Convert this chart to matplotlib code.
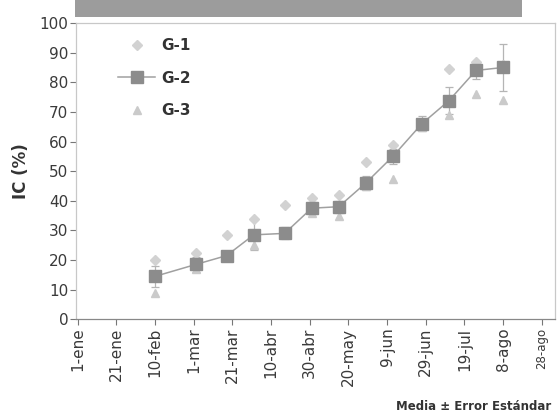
import matplotlib
matplotlib.use("Agg")
import matplotlib.pyplot as plt
from matplotlib.patches import Rectangle
from matplotlib.lines import Line2D

# Tick labels (days from 1-ene, leap year)
tick_days = [0, 20, 40, 60, 80, 100, 120, 140, 160, 180, 200, 220, 240]
tick_labels = ["1-ene", "21-ene", "10-feb", "1-mar", "21-mar", "10-abr", "30-abr",
               "20-may", "9-jun", "29-jun", "19-jul", "8-ago", "28-ago"]

# Sampling dates (days from 1-ene)
days = [40, 61, 77, 91, 107, 121, 135, 149, 163, 178, 192, 206, 220]

g1 = [20, 22.5, 28.5, 34, 38.5, 41, 42, 53, 59, 66, 84.5, 87, 86]
g2 = [14.5, 18.5, 21.5, 28.5, 29, 37.5, 38, 46, 55, 66, 73.8, 84, 85]
g2_err = [3.5, 2.5, 1.5, 5, 2, 2, 2, 2.5, 2.5, 2.5, 4.5, 3, 8]
g3 = [9, 17, 21, 25, 29.5, 36, 35, 45, 47.5, 65, 69, 76, 74]

fig = plt.figure(figsize=(5.6, 4.19), dpi=100)
ax = fig.add_axes([0.1355, 0.238, 0.856, 0.707])

# title band (scanned, illegible)
fig.patches.append(Rectangle((75 / 560, 1 - 17 / 419), (522 - 75) / 560, 17 / 419,
                             transform=fig.transFigure, facecolor="#9c9c9c",
                             edgecolor="none", zorder=0))

ax.errorbar(days, g2, yerr=g2_err, fmt="none", ecolor="#b5b5b5", elinewidth=0.9,
            capsize=3, capthick=0.9, zorder=2)
ax.plot(days, g1, linestyle="none", marker="D", markersize=5, color="#d2d2d2",
        zorder=3)
ax.plot(days, g3, linestyle="none", marker="^", markersize=6, color="#cacaca",
        zorder=3)
ax.plot(days, g2, linestyle="-", color="#a0a0a0", linewidth=1.1, marker="s",
        markersize=8.5, markerfacecolor="#8c8c8c", markeredgecolor="#8c8c8c",
        zorder=4)

ax.set_xlim(-1, 247)
ax.set_ylim(0, 100)
ax.set_yticks(range(0, 101, 10))
ax.set_xticks(tick_days)
ax.set_xticklabels(tick_labels, rotation=90, fontsize=11, color="#3a3a3a")
ax.get_xticklabels()[-1].set_fontsize(8.5)
ax.tick_params(axis="y", labelsize=11, length=4, pad=1.5, colors="#3a3a3a",
               color="#777777")
ax.tick_params(axis="x", length=4, pad=2, color="#777777")
for s in ax.spines.values():
    s.set_color("#c8c8c8")
    s.set_linewidth(0.9)
ax.spines["bottom"].set_color("#888888")

ax.set_ylabel("IC (%)", fontsize=12, fontweight="bold", color="#333333", labelpad=7)

handles = [
    Line2D([], [], linestyle="none", marker="D", markersize=5, color="#d2d2d2"),
    Line2D([], [], linestyle="-", color="#a0a0a0", linewidth=1.1, marker="s",
           markersize=8.5, markerfacecolor="#8c8c8c", markeredgecolor="#8c8c8c"),
    Line2D([], [], linestyle="none", marker="^", markersize=6, color="#cacaca"),
]
leg = ax.legend(handles, ["G-1", "G-2", "G-3"], loc="upper left",
                bbox_to_anchor=(0.06, 0.995), frameon=False, handlelength=2.4,
                handletextpad=0.4, labelspacing=1.15,
                prop={"weight": "bold", "size": 11})
for t in leg.get_texts():
    t.set_color("#333333")

fig.text(0.985, 0.015, "Media ± Error Estándar", ha="right", va="bottom",
         fontsize=8.5, fontweight="bold", color="#333333")

fig.savefig("out.png", dpi=100)
